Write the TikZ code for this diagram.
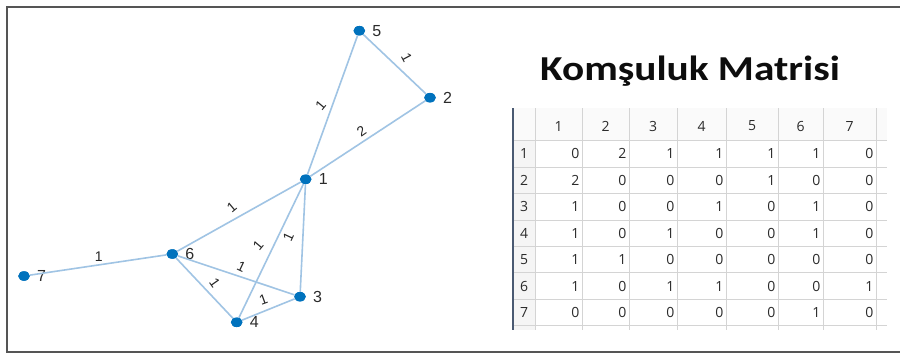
\documentclass[tikz,border=0pt]{standalone}
\usepackage{fontspec}
\setmainfont{Liberation Sans}
\newfontfamily\titlefont{Carlito}
\newfontfamily\tablefont{Open Sans}
\usetikzlibrary{shapes.geometric}
\definecolor{nodeblue}{HTML}{0072BD}
\definecolor{edgeblue}{RGB}{160,196,228}
\definecolor{framegray}{HTML}{555555}
\definecolor{gridgray}{HTML}{D4D4D4}
\definecolor{slate}{HTML}{4A5A72}
\definecolor{txt}{HTML}{2B2B2B}
\tikzset{
  dot/.style={ellipse, fill=nodeblue, draw=none, minimum width=11.5pt, minimum height=9.5pt, inner sep=0pt},
  nlab/.style={font=\fontsize{16}{18}\selectfont, text=txt, inner sep=0pt},
  edge/.style={draw=edgeblue, line width=1.6pt},
  elab/.style={font=\fontsize{14}{16}\selectfont, text=black!85, inner sep=0pt},
  cellnum/.style={font=\tablefont\fontsize{14}{16}\selectfont, text=txt, inner sep=0pt},
  gridline/.style={draw=gridgray, line width=0.8pt},
  titlestyle/.style={font=\titlefont\bfseries\fontsize{35}{40}\selectfont, text=black!95, inner sep=0pt}
}
\begin{document}
\begin{tikzpicture}[x=1pt,y=-1pt]
\useasboundingbox (0,0) rectangle (900,354);
\fill[white] (0,0) rectangle (900,354);
% frame
\draw[framegray, line width=2pt] (900,7) -- (7,7) -- (7,352) -- (900,352);

% graph nodes
\node[dot, label={[nlab, label distance=7pt]0:1}] (n1) at (305.7,179.3) {};
\node[dot, label={[nlab, label distance=7pt]0:2}] (n2) at (430,97.7) {};
\node[dot, label={[nlab, label distance=7pt]0:3}] (n3) at (300,296.7) {};
\node[dot, label={[nlab, label distance=7pt]0:4}] (n4) at (236.7,322.3) {};
\node[dot, label={[nlab, label distance=7pt]0:5}] (n5) at (359.3,30.7) {};
\node[dot, label={[nlab, label distance=7pt]0:6}] (n6) at (172.3,254) {};
\node[dot, label={[nlab, label distance=7pt]0:7}] (n7) at (24,276) {};

% edges
\draw[edge] (n5) -- node[elab, pos=0.55, shift={(8.8,-9.3)}, rotate=-62] {1} (n2);
\draw[edge] (n5) -- node[elab, pos=0.53, shift={(-10.2,-3.8)}, rotate=50] {1} (n1);
\draw[edge] (n2) -- node[elab, pos=0.51, shift={(-5.3,-8)}, rotate=35] {2} (n1);
\draw[edge] (n1) -- node[elab, pos=0.512, shift={(-5.7,-10.2)}, rotate=40] {1} (n6);
\draw[edge] (n1) -- node[elab, pos=0.502, shift={(-12.8,-6.1)}, rotate=50] {1} (n4);
\draw[edge] (n1) -- node[elab, pos=0.5, shift={(-14.5,-0.7)}, rotate=65] {1} (n3);
\draw[edge] (n6) -- node[elab, pos=0.52, shift={(3,-8.9)}, rotate=-25] {1} (n3);
\draw[edge] (n6) -- node[elab, pos=0.54, shift={(7.9,-7.6)}, rotate=-55] {1} (n4);
\draw[edge] (n4) -- node[elab, pos=0.48, shift={(-3.8,-10)}, rotate=20] {1} (n3);
\draw[edge] (n7) -- node[elab, pos=0.514, shift={(-1.2,-8)}] {1} (n6);
% redraw dots above edges
\foreach \n/\x/\y in {1/305.7/179.3,2/430/97.7,3/300/296.7,4/236.7/322.3,5/359.3/30.7,6/172.3/254,7/24/276}
  \fill[nodeblue] (\x,\y) ellipse [x radius=5.75pt, y radius=4.75pt];

% title
\node[titlestyle] (title) at (690,71) {\scalebox{1.18}[1]{Komşuluk Matrisi}};

% table backgrounds
\fill[black!2] (513,108) rectangle (887,140.7);
\fill[black!4] (513,140.7) rectangle (535,330);
% horizontal grid lines
\foreach \k in {0,...,7}
  \draw[gridline] (513,{140.7+26.43*\k}) -- (887,{140.7+26.43*\k});
% vertical grid lines
\foreach \xx in {535,582,629,677,726,778,823,876}
  \draw[gridline] (\xx,108) -- (\xx,330);
% thick left line
\draw[slate, line width=2.5pt] (513,108) -- (513,330);

% header
\foreach \i/\xl/\xr in {1/535/582,2/582/629,3/629/677,4/677/726,5/726/778,6/778/823,7/823/876}
  \node[cellnum] (h\i) at ({(\xl+\xr)/2},126) {\i};
% row headers
\foreach \r in {1,...,7}
  \node[cellnum] (r\r) at (524,{140.7+26.43*(\r-0.5)}) {\r};
% cells
\foreach \r/\vals in {1/{0,2,1,1,1,1,0},2/{2,0,0,0,1,0,0},3/{1,0,0,1,0,1,0},4/{1,0,1,0,0,1,0},5/{1,1,0,0,0,0,0},6/{1,0,1,1,0,0,1},7/{0,0,0,0,0,1,0}}{
  \foreach \v [count=\c] in \vals {
    \pgfmathsetmacro{\xr}{{582,629,677,726,778,823,876}[\c-1]}
    \node[cellnum, anchor=east] (c\r-\c) at (\xr-2.5,{140.7+26.43*(\r-0.5)}) {\v};
  }
}
\end{tikzpicture}
\end{document}
